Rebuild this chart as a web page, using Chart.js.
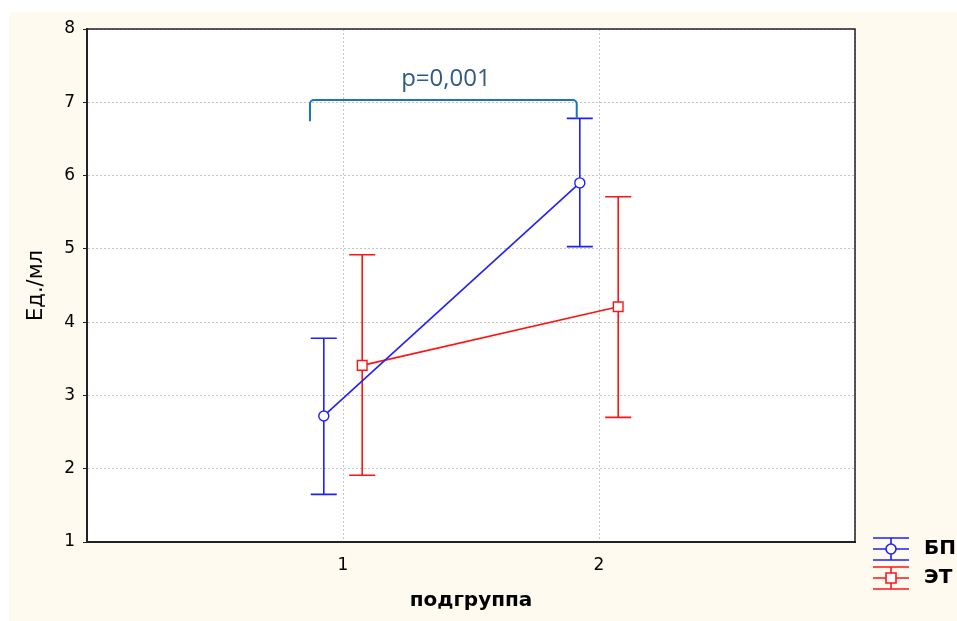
<!DOCTYPE html>
<html>
<head>
<meta charset="utf-8">
<script src="https://cdn.jsdelivr.net/npm/chart.js@4"></script>
<style>
  html, body { margin: 0; padding: 0; background: #fff; }
</style>
</head>
<body>
<canvas id="chart" width="957" height="621"></canvas>
<script>
// данные -----------------------------------------
const groups = [1, 2];
const groupLabels = ["1", "2"];
const yTicks = [1, 2, 3, 4, 5, 6, 7, 8];

const bpMean = [2.72, 5.9];
const bpLow = [1.65, 5.03];
const bpHigh = [3.78, 6.78];

const etMean = [3.41, 4.21];
const etLow = [1.91, 2.7];
const etHigh = [4.92, 5.71];

const pText = "p=0,001";

// оформление
const BLUE = "#1f1fff";
const RED = "#ff1414";
const CREAM = "#fefaf0";
const shift = 0.075;

const toPoints = (mean, dx) => groups.map((g, i) => ({ x: g + dx, y: mean[i] }));

// фон
const bgPlugin = {
  id: "bg",
  beforeDraw(chart) {
    const { ctx, chartArea: a } = chart;
    ctx.save();
    ctx.fillStyle = "#fff";
    ctx.fillRect(0, 0, chart.width, chart.height);
    ctx.fillStyle = CREAM;
    ctx.fillRect(9, 12, chart.width - 9, chart.height - 12);
    ctx.fillStyle = "#fff";
    ctx.fillRect(a.left, a.top, a.right - a.left, a.bottom - a.top);
    ctx.restore();
  },
};

// усы (доверительные интервалы)
const errorPlugin = {
  id: "errbars",
  beforeDatasetsDraw(chart) {
    const { ctx, scales } = chart;
    ctx.save();
    chart.data.datasets.forEach((ds) => {
      ds.data.forEach((p, i) => {
        const x = scales.x.getPixelForValue(p.x);
        const y1 = scales.y.getPixelForValue(ds.errLow[i]);
        const y2 = scales.y.getPixelForValue(ds.errHigh[i]);
        ctx.strokeStyle = ds.borderColor;
        ctx.lineWidth = 1.6;
        ctx.beginPath();
        ctx.moveTo(x, y1);
        ctx.lineTo(x, y2);
        ctx.moveTo(x - 13, y1);
        ctx.lineTo(x + 13, y1);
        ctx.moveTo(x - 13, y2);
        ctx.lineTo(x + 13, y2);
        ctx.stroke();
      });
    });
    ctx.restore();
  },
};

// скобка + p
const bracketPlugin = {
  id: "bracket",
  afterDatasetsDraw(chart) {
    const { ctx, scales } = chart;
    const x0 = scales.x.getPixelForValue(0.871);
    const x1 = scales.x.getPixelForValue(1.913);
    const yTop = scales.y.getPixelForValue(7.03);
    const yL = scales.y.getPixelForValue(6.74);
    const yR = scales.y.getPixelForValue(6.78);
    const r = 4;
    ctx.save();
    ctx.strokeStyle = "#1b74bd";
    ctx.lineWidth = 2;
    ctx.beginPath();
    ctx.moveTo(x0, yL);
    ctx.lineTo(x0, yTop + r);
    ctx.arcTo(x0, yTop, x0 + r, yTop, r);
    ctx.lineTo(x1 - r, yTop);
    ctx.arcTo(x1, yTop, x1, yTop + r, r);
    ctx.lineTo(x1, yR);
    ctx.stroke();

    ctx.fillStyle = "#2f5a8a";
    ctx.font = "24px 'Open Sans'";
    ctx.textAlign = "center";
    ctx.textBaseline = "alphabetic";
    ctx.fillText(pText, scales.x.getPixelForValue(1.402), scales.y.getPixelForValue(7.22));
    ctx.restore();
  },
};

// рамка сверху и справа + легенда
const framePlugin = {
  id: "frame",
  afterDraw(chart) {
    const { ctx, chartArea: a } = chart;
    ctx.save();
    ctx.strokeStyle = "#222";
    ctx.lineWidth = 1.5;
    ctx.beginPath();
    ctx.moveTo(a.left, a.top);
    ctx.lineTo(a.right, a.top);
    ctx.lineTo(a.right, a.bottom);
    ctx.stroke();

    // легенда
    const items = chart.data.datasets;
    items.forEach((ds, i) => {
      const cx = 891;
      const cy = 549 + i * 29;
      ctx.strokeStyle = ds.borderColor;
      ctx.lineWidth = 1.6;
      ctx.beginPath();
      ctx.moveTo(cx - 18, cy - 11);
      ctx.lineTo(cx + 18, cy - 11);
      ctx.moveTo(cx - 18, cy);
      ctx.lineTo(cx + 18, cy);
      ctx.moveTo(cx - 18, cy + 11);
      ctx.lineTo(cx + 18, cy + 11);
      ctx.moveTo(cx, cy - 11);
      ctx.lineTo(cx, cy + 11);
      ctx.stroke();
      ctx.fillStyle = "#fff";
      ctx.beginPath();
      if (ds.pointStyle === "rect") {
        ctx.rect(cx - 5, cy - 5, 10, 10);
      } else {
        ctx.arc(cx, cy, 5, 0, Math.PI * 2);
      }
      ctx.fill();
      ctx.stroke();
      ctx.fillStyle = "#000";
      ctx.font = "bold 20px 'DejaVu Sans'";
      ctx.textAlign = "left";
      ctx.textBaseline = "middle";
      ctx.fillText(ds.label, 924, cy);
    });
    ctx.restore();
  },
};

const chart = new Chart(document.getElementById("chart"), {
  type: "scatter",
  data: {
    datasets: [
      {
        label: "БП",
        data: toPoints(bpMean, -shift),
        errLow: bpLow,
        errHigh: bpHigh,
        showLine: true,
        borderColor: BLUE,
        backgroundColor: "#fff",
        borderWidth: 1.6,
        pointStyle: "circle",
        pointRadius: 5,
        pointBorderWidth: 1.4,
      },
      {
        label: "ЭТ",
        data: toPoints(etMean, shift),
        errLow: etLow,
        errHigh: etHigh,
        showLine: true,
        borderColor: RED,
        backgroundColor: "#fff",
        borderWidth: 1.6,
        pointStyle: "rect",
        pointRadius: 6.8,
        pointBorderWidth: 1.4,
      },
    ],
  },
  options: {
    responsive: false,
    devicePixelRatio: 1,
    animation: false,
    layout: { padding: { left: 0, top: 29, right: 102, bottom: 0 } },
    plugins: {
      legend: { display: false },
      tooltip: { enabled: false },
    },
    scales: {
      x: {
        type: "linear",
        min: 0,
        max: 3,
        afterBuildTicks: (s) => {
          s.ticks = [0, ...groups, 3].map((v) => ({ value: v }));
        },
        afterFit: (s) => {
          s.height = 79;
        },
        ticks: {
          font: { family: "'DejaVu Sans'", size: 17 },
          color: "#000",
          padding: 13,
          callback: (v) => {
            const i = groups.indexOf(v);
            return i >= 0 ? groupLabels[i] : "";
          },
        },
        grid: { color: "#c4c4c4", drawTicks: false },
        border: { color: "#222", width: 2, dash: [2, 2] },
        title: {
          display: true,
          text: "подгруппа",
          font: { family: "'DejaVu Sans'", size: 20, weight: "bold" },
          color: "#000",
          padding: { top: 0, bottom: 8 },
        },
      },
      y: {
        min: 1,
        max: 8,
        afterBuildTicks: (s) => {
          s.ticks = yTicks.map((v) => ({ value: v }));
        },
        afterFit: (s) => {
          s.width = 87;
        },
        ticks: {
          font: { family: "'DejaVu Sans'", size: 17 },
          color: "#000",
          padding: 8,
        },
        grid: { color: "#c4c4c4", tickColor: "#222", tickLength: 4, tickBorderDash: [] },
        border: { color: "#222", width: 2, dash: [2, 2] },
        title: {
          display: true,
          text: "Ед./мл",
          font: { family: "'DejaVu Sans'", size: 21 },
          color: "#000",
          padding: { top: 24, bottom: 0 },
        },
      },
    },
  },
  plugins: [bgPlugin, errorPlugin, bracketPlugin, framePlugin],
});
</script>
</body>
</html>
